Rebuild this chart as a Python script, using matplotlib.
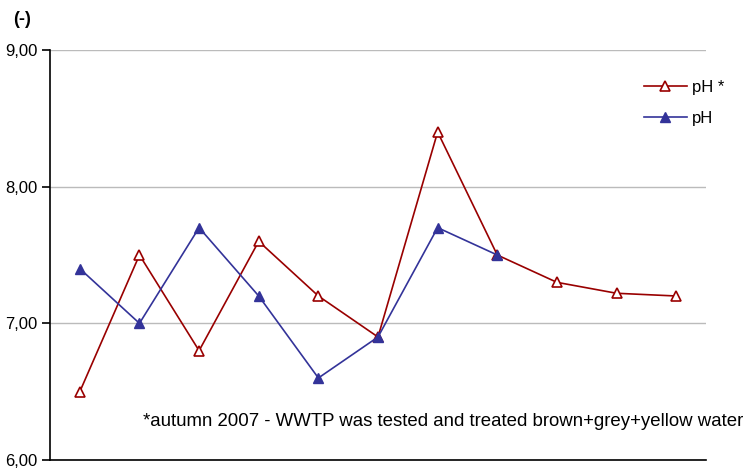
import matplotlib
matplotlib.use("Agg")
import matplotlib.pyplot as plt
from matplotlib.ticker import FuncFormatter

plt.rcParams['font.family'] = ['Liberation Sans', 'DejaVu Sans']

# measurement slots along the x axis (no labels shown)
slots = list(range(1, 12))
ph_star = [6.5, 7.5, 6.8, 7.6, 7.2, 6.9, 8.4, 7.5, 7.3, 7.22, 7.2]
ph = [7.4, 7.0, 7.7, 7.2, 6.6, 6.9, 7.7, 7.5]
y_ticks = [6, 7, 8, 9]

red = '#990000'
blue = '#333399'

fig = plt.figure(figsize=(7.47, 4.69), dpi=100)
ax = fig.add_axes([50 / 747, 9 / 469, 656 / 747, 410 / 469])

ax.plot(slots, ph_star, color=red, lw=1.2, marker='^', ms=7,
        mfc='white', mec=red, mew=1.2, label='pH *', zorder=3)
ax.plot(slots[:len(ph)], ph, color=blue, lw=1.2, marker='^', ms=7,
        mfc=blue, mec=blue, label='pH', zorder=3)

ax.set_xlim(0.5, 11.5)
ax.set_ylim(6, 9)
ax.set_yticks(y_ticks)
ax.yaxis.set_major_formatter(FuncFormatter(lambda v, p: f"{v:.2f}".replace('.', ',')))
ax.set_xticks([])
ax.grid(axis='y', color='#bbbbbb', lw=1)
ax.set_axisbelow(True)
for s in ['top', 'right']:
    ax.spines[s].set_visible(False)
ax.spines['left'].set_linewidth(1.2)
ax.spines['bottom'].set_linewidth(1.2)
ax.tick_params(axis='y', length=6, width=1.2, labelsize=12, pad=3)

fig.text(13 / 747, 1 - 20 / 469, '(-)', fontsize=13, fontweight='bold',
         ha='left', va='center')
fig.text(143 / 747, 1 - 421 / 469,
         '*autumn 2007 - WWTP was tested and treated brown+grey+yellow water',
         fontsize=13.45, ha='left', va='center')

ax.legend(loc='upper left', bbox_to_anchor=(637 / 747, 1 - 73 / 469),
          bbox_transform=fig.transFigure, frameon=False, fontsize=12,
          handlelength=2.6, handletextpad=0.3, labelspacing=0.95, borderaxespad=0)

fig.savefig('out.png', dpi=100)
